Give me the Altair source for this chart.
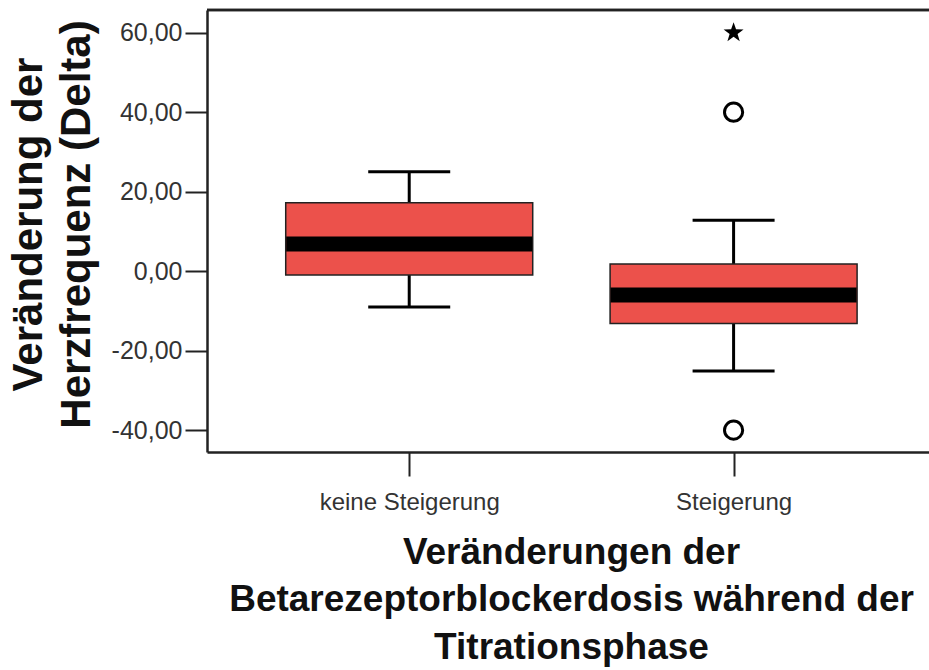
import json
import altair as alt
import pandas as pd

# Groups on the x axis
categories = ["keine Steigerung", "Steigerung"]

# Box-plot summary per group (change in heart rate, delta)
whisker_low = [-9.0, -25.1]
q1 = [-1.0, -13.2]
median = [6.8, -6.0]
q3 = [17.2, 1.8]
whisker_high = [25.0, 12.8]

# Outliers (circles) and extreme values (stars)
outlier_group = ["Steigerung", "Steigerung"]
outlier_value = [40.0, -40.0]
extreme_group = ["Steigerung"]
extreme_value = [60.0]

y_ticks = [-40, -20, 0, 20, 40, 60]
y_domain = [-45.5, 65.7]
x_domain = [0.392, 2.587]

x_title = ["Veränderungen der", "Betarezeptorblockerdosis während der", "Titrationsphase"]
y_title = ["Veränderung der", "Herzfrequenz (Delta)"]

W, H = 722, 442

pos = {c: i + 1 for i, c in enumerate(categories)}

boxes = pd.DataFrame({
    "group": categories,
    "pos": [pos[c] for c in categories],
    "lo": whisker_low,
    "q1": q1,
    "median": median,
    "q3": q3,
    "hi": whisker_high,
})
caps = pd.concat([
    boxes[["group", "pos"]].assign(v=boxes["lo"]),
    boxes[["group", "pos"]].assign(v=boxes["hi"]),
])
outliers = pd.DataFrame({"pos": [pos[g] for g in outlier_group], "v": outlier_value})
extremes = pd.DataFrame({"pos": [pos[g] for g in extreme_group], "v": extreme_value})

FONT = "Liberation Sans, Arial, Helvetica, sans-serif"
BOX_RED = "#EC514B"
AXIS_COLOR = "#222"

# Five-pointed star symbol in the unit square used by Vega's custom shapes
STAR = ("M0,-1L0.235,-0.324L0.951,-0.309L0.38,0.124L0.588,0.809L0,0.4"
        "L-0.588,0.809L-0.38,0.124L-0.951,-0.309L-0.235,-0.324Z")

label_expr = " : ".join(
    f"datum.value == {pos[c]} ? {json.dumps(c)}" for c in categories[:-1]
) + " : " + json.dumps(categories[-1])

x_axis = alt.Axis(
    values=[pos[c] for c in categories],
    labelExpr=label_expr,
    labelLimit=0,
    grid=False,
    domainColor=AXIS_COLOR,
    domainWidth=2.5,
    tickColor=AXIS_COLOR,
    tickWidth=2,
    tickSize=24,
    labelPadding=14,
    labelFont=FONT,
    labelFontSize=24,
    labelColor="#333",
    title=x_title,
    titleFont=FONT,
    titleFontSize=37,
    titleFontWeight="bold",
    titleColor="#111",
    titleLineHeight=47.5,
    titleAlign="center",
    titleBaseline="alphabetic",
    titleX=364,
    titleY=111,
)

y_axis = alt.Axis(
    values=y_ticks,
    labelExpr="replace(replace(format(datum.value, '.2f'), '.', ','), '\u2212', '-')",
    grid=False,
    domainColor=AXIS_COLOR,
    domainWidth=2.5,
    tickColor=AXIS_COLOR,
    tickWidth=2,
    tickSize=22,
    labelPadding=3,
    labelFont=FONT,
    labelFontSize=25,
    labelColor="#333",
    title=y_title,
    titleFont=FONT,
    titleFontSize=42,
    titleFontWeight="bold",
    titleColor="#111",
    titleLineHeight=48,
    titleAngle=-90,
    titleAlign="center",
    titleBaseline="alphabetic",
    titleX=-166,
    titleY=214,
)

x_scale = alt.Scale(domain=x_domain, nice=False, zero=False)
y_scale = alt.Scale(domain=y_domain, nice=False, zero=False)

base = alt.Chart(boxes)

whiskers = base.mark_rule(color="black", strokeWidth=3, opacity=1).encode(
    x=alt.X("pos:Q", scale=x_scale, axis=x_axis),
    y=alt.Y("lo:Q", scale=y_scale, axis=y_axis),
    y2="hi:Q",
)

box = base.mark_bar(size=247, color=BOX_RED, stroke="#222", strokeWidth=1.5, opacity=1).encode(
    x="pos:Q",
    y="q1:Q",
    y2="q3:Q",
)

med = base.mark_tick(orient="horizontal", size=246, thickness=15, color="black", opacity=1).encode(
    x="pos:Q",
    y="median:Q",
)

cap = alt.Chart(caps).mark_tick(
    orient="horizontal", size=82, thickness=3, color="black", opacity=1
).encode(x="pos:Q", y="v:Q")

out_pts = alt.Chart(outliers).mark_point(
    shape="circle", filled=False, size=330, strokeWidth=3, color="black", opacity=1
).encode(x="pos:Q", y="v:Q")

ext_pts = alt.Chart(extremes).mark_point(
    shape=STAR, filled=True, size=440, color="black", opacity=1
).encode(x="pos:Q", y="v:Q")

# Top edge of the frame
top_line = base.mark_rule(color=AXIS_COLOR, strokeWidth=2.5).encode(y=alt.datum(y_domain[1]))

chart = (
    alt.layer(whiskers, box, med, cap, out_pts, ext_pts, top_line)
    .properties(
        width=W,
        height=H,
        autosize=alt.AutoSizeParams(type="none"),
        padding={"left": 207, "top": 10, "right": 0, "bottom": 218},
        background="white",
    )
    .configure_view(stroke=None)
)

chart.save("out.html", embed_options={"renderer": "svg", "actions": False})
